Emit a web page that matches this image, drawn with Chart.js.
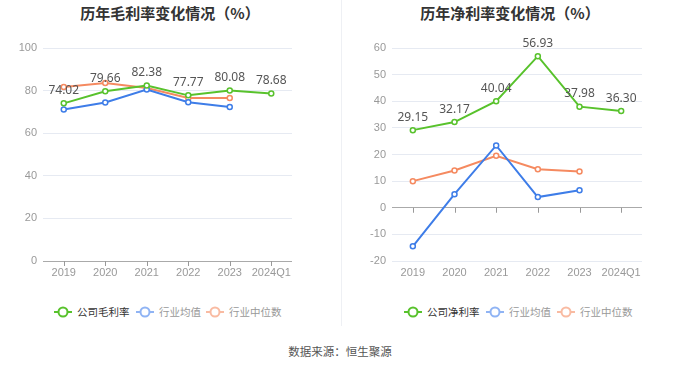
<!DOCTYPE html>
<html>
<head>
<meta charset="utf-8">
<script src="https://cdn.jsdelivr.net/npm/chart.js@4"></script>
<style>
  body { margin: 0; background: #fff; font-family: "Noto Sans CJK SC", "Noto Sans", sans-serif; }
  #wrap { position: relative; width: 680px; height: 367px; overflow: hidden; }
  .titulo { position: absolute; top: 2px; width: 340px; text-align: center; font-size: 15px; font-weight: bold; color: #333; }
  .grafico { position: absolute; top: 0; width: 340px; height: 290px; }
  .divisor { position: absolute; left: 341px; top: 0; width: 1px; height: 326px; background: #eef0f4; }
  .legenda { position: absolute; top: 305px; font-size: 10.5px; white-space: nowrap; }
  .item { position: absolute; top: 0; line-height: 14px; }
  .item svg { position: absolute; left: 0; top: 1px; }
  .item span { position: absolute; left: 23px; top: 0; }
  #fonte { position: absolute; top: 343px; width: 680px; text-align: center; font-size: 11.5px; color: #555; }
</style>
</head>
<body>
<div id="wrap">
  <div class="titulo" style="left:0">历年毛利率变化情况（%）</div>
  <div class="titulo" style="left:340px">历年净利率变化情况（%）</div>
  <div class="grafico" style="left:0"><canvas id="g1" width="340" height="290"></canvas></div>
  <div class="grafico" style="left:340px"><canvas id="g2" width="340" height="290"></canvas></div>
  <div class="divisor"></div>
  <div class="legenda" id="leg1" style="left:0"></div>
  <div class="legenda" id="leg2" style="left:0"></div>
  <div id="fonte">数据来源：恒生聚源</div>
</div>
<script>
const anos = ["2019", "2020", "2021", "2022", "2023", "2024Q1"];

// margem bruta (%)
const margemEmpresa = [74.02, 79.66, 82.38, 77.77, 80.08, 78.68];
const margemMedia = [71.1, 74.4, 80.5, 74.5, 72.3, null];
const margemMediana = [81.7, 83.6, 81.2, 76.5, 76.5, null];

// margem líquida (%)
const liquidaEmpresa = [29.15, 32.17, 40.04, 56.93, 37.98, 36.30];
const liquidaMedia = [-14.5, 5.1, 23.4, 4.0, 6.6, null];
const liquidaMediana = [10.0, 14.0, 19.5, 14.5, 13.6, null];

const verde = "#58c22c";
const azul = "#3e7de8";
const laranja = "#f58a60";

// rótulos só na série da empresa + tracinhos no eixo zero
const rotulos = {
  id: "rotulos",
  afterDatasetsDraw(chart) {
    const ctx = chart.ctx;
    const x = chart.scales.x;
    const y0 = chart.scales.y.getPixelForValue(0);
    ctx.save();
    ctx.strokeStyle = "#999";
    ctx.lineWidth = 1;
    for (let i = 0; i < anos.length; i++) {
      const px = Math.round(x.getPixelForValue(i)) + 0.5;
      ctx.beginPath();
      ctx.moveTo(px, y0);
      ctx.lineTo(px, y0 + 5);
      ctx.stroke();
    }
    const meta = chart.getDatasetMeta(0);
    ctx.fillStyle = "#555";
    ctx.font = "12px 'Noto Sans', sans-serif";
    ctx.textAlign = "center";
    ctx.textBaseline = "middle";
    meta.data.forEach((p, i) => {
      const v = chart.data.datasets[0].data[i];
      if (v == null) return;
      ctx.fillText(v.toFixed(2), p.x, p.y - 13);
    });
    ctx.restore();
  }
};

function serie(nome, dados, cor) {
  return {
    label: nome,
    data: dados,
    borderColor: cor,
    backgroundColor: "#fff",
    borderWidth: 2,
    pointRadius: 2.5,
    pointBorderWidth: 1.5,
    pointBackgroundColor: "#fff",
    pointBorderColor: cor,
    tension: 0
  };
}

function criarGrafico(id, series, min, max, passo, larguraY, direita) {
  new Chart(document.getElementById(id), {
    type: "line",
    data: { labels: anos, datasets: series },
    options: {
      responsive: false,
      animation: false,
      layout: { padding: { top: 48, right: direita, bottom: 0, left: 0 } },
      plugins: { legend: { display: false }, tooltip: { enabled: false } },
      scales: {
        x: {
          offset: true,
          grid: { display: false, drawTicks: false },
          border: { display: false },
          ticks: { color: "#999", font: { size: 11 }, padding: 5, maxRotation: 0, autoSkip: false },
          afterFit(s) { s.height = 29; }
        },
        y: {
          min: min, max: max,
          border: { display: false },
          grid: {
            drawTicks: false,
            color: c => c.tick && c.tick.value === 0 ? "#aaa" : "#e6eaf2",
            lineWidth: 1
          },
          ticks: { stepSize: passo, color: "#999", font: { size: 11 }, padding: 6 },
          afterFit(s) { s.width = larguraY; }
        }
      }
    },
    plugins: [rotulos]
  });
}

criarGrafico("g1", [
  serie("公司毛利率", margemEmpresa, verde),
  serie("行业均值", margemMedia, azul),
  serie("行业中位数", margemMediana, laranja)
], 0, 100, 20, 43, 48);

criarGrafico("g2", [
  serie("公司净利率", liquidaEmpresa, verde),
  serie("行业均值", liquidaMedia, azul),
  serie("行业中位数", liquidaMediana, laranja)
], -20, 60, 10, 52, 38);

function icone(cor) {
  return `<svg width="18" height="12"><line x1="0" y1="6" x2="18" y2="6" stroke="${cor}" stroke-width="2"/><circle cx="9" cy="6" r="4.5" fill="#fff" stroke="${cor}" stroke-width="2"/></svg>`;
}

function criarLegenda(id, itens) {
  const div = document.getElementById(id);
  div.innerHTML = itens.map(it =>
    `<div class="item" style="left:${it.x}px">${icone(it.cor)}<span style="color:${it.texto}">${it.nome}</span></div>`
  ).join("");
}

criarLegenda("leg1", [
  { x: 54, nome: "公司毛利率", cor: verde, texto: "#333" },
  { x: 136, nome: "行业均值", cor: "#90b4f4", texto: "#999" },
  { x: 206, nome: "行业中位数", cor: "#f9bba2", texto: "#999" }
]);
criarLegenda("leg2", [
  { x: 404, nome: "公司净利率", cor: verde, texto: "#333" },
  { x: 486, nome: "行业均值", cor: "#90b4f4", texto: "#999" },
  { x: 557, nome: "行业中位数", cor: "#f9bba2", texto: "#999" }
]);
</script>
</body>
</html>
